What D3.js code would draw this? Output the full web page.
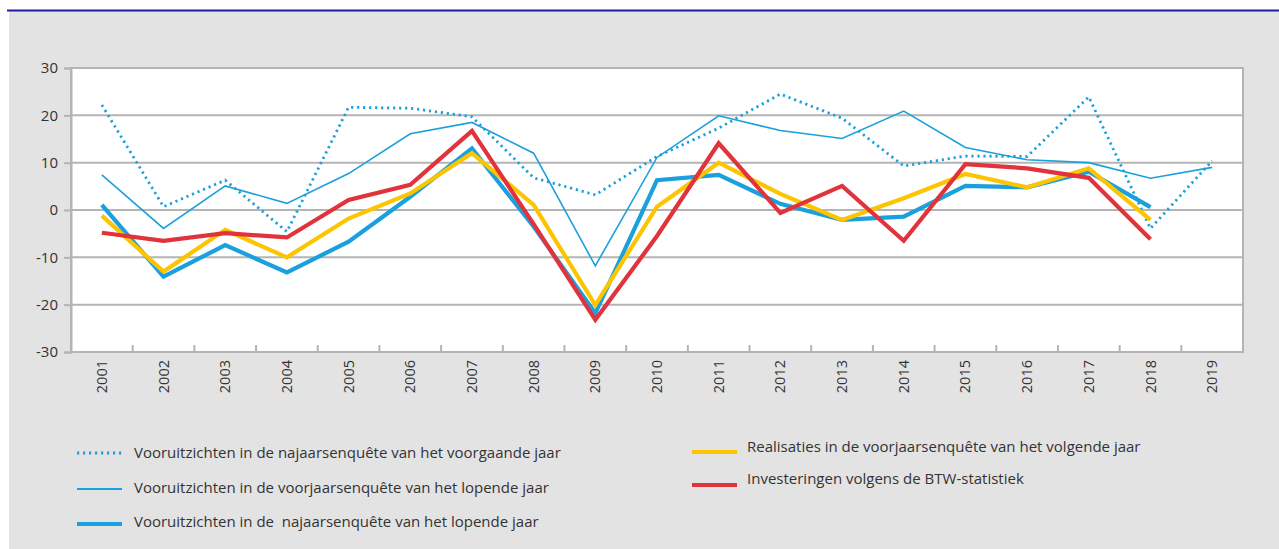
<!DOCTYPE html>
<html>
<head>
<meta charset="utf-8">
<script src="https://cdn.jsdelivr.net/npm/d3@7"></script>
<style>
  body { margin: 0; background: #fff; }
  text { font-family: "Open Sans", "Noto Sans", sans-serif; fill: #333; }
</style>
</head>
<body>
<svg id="chart" width="1279" height="549"></svg>
<script>
var years = ["2001","2002","2003","2004","2005","2006","2007","2008","2009","2010",
             "2011","2012","2013","2014","2015","2016","2017","2018","2019"];
var yTicks = [-30, -20, -10, 0, 10, 20, 30];

// najaarsenquete van het voorgaande jaar (dotted)
var najaarVorig = [22.2, 0.7, 6.3, -4.6, 21.7, 21.5, 19.7, 6.8, 3.2, 11.3,
                   17.3, 24.5, 19.4, 9.3, 11.4, 11.3, 23.9, -3.9, 10.4];
// voorjaarsenquete van het lopende jaar (thin)
var voorjaarLopend = [7.4, -3.9, 5.1, 1.4, 7.7, 16.1, 18.5, 12.0, -11.8, 11.1,
                      19.9, 16.8, 15.1, 20.9, 13.2, 10.6, 10.0, 6.7, 9.0];
// najaarsenquete van het lopende jaar (thick)
var najaarLopend = [1.1, -14.1, -7.4, -13.2, -6.7, 2.8, 13.0, -3.5, -21.8, 6.3,
                    7.4, 1.3, -2.1, -1.4, 5.1, 4.8, 8.1, 0.6];
// realisaties in de voorjaarsenquete van het volgende jaar
var realisaties = [-1.2, -13.0, -4.2, -10.0, -1.8, 3.5, 12.0, 1.1, -20.1, 0.7,
                   10.0, 3.4, -2.1, 2.5, 7.6, 4.8, 8.8, -2.1];
// investeringen volgens de BTW-statistiek
var btw = [-4.8, -6.5, -4.9, -5.8, 2.1, 5.3, 16.7, -3.0, -23.2, -5.5,
           14.1, -0.6, 5.1, -6.5, 9.7, 8.8, 6.8, -6.2];

var blue = "#1aa0dc", yellow = "#fdc400", red = "#e1333c", grid = "#b4b4b4";

var series = [
	{ name: "Vooruitzichten in de najaarsenquête van het voorgaande jaar", values: najaarVorig, color: blue, width: 2.8, dash: "2.2 3.8" },
	{ name: "Vooruitzichten in de voorjaarsenquête van het lopende jaar", values: voorjaarLopend, color: blue, width: 1.6 },
	{ name: "Vooruitzichten in de  najaarsenquête van het lopende jaar", values: najaarLopend, color: blue, width: 4.2 },
	{ name: "Realisaties in de voorjaarsenquête van het volgende jaar", values: realisaties, color: yellow, width: 4.2 },
	{ name: "Investeringen volgens de BTW-statistiek", values: btw, color: red, width: 4.2 }
];

var svg = d3.select("#chart");

svg.append("rect").attr("x", 9).attr("y", 11).attr("width", 1270).attr("height", 538).attr("fill", "#e3e3e3");
svg.append("line").attr("x1", 7).attr("x2", 1279).attr("y1", 10.5).attr("y2", 10.5)
	.attr("stroke", "#1c1c9e").attr("stroke-width", 2);

var plotL = 71, plotR = 1243, plotT = 68, plotB = 352;

var x = d3.scaleBand().domain(years).range([plotL, plotR]);
var y = d3.scaleLinear().domain([-30, 30]).range([plotB, plotT]);

svg.append("rect").attr("x", plotL).attr("y", plotT).attr("width", plotR - plotL).attr("height", plotB - plotT)
	.attr("fill", "#fff").attr("stroke", grid).attr("stroke-width", 2);

svg.append("g").selectAll("line").data(yTicks.slice(1, -1)).join("line")
	.attr("x1", plotL).attr("x2", plotR)
	.attr("y1", d => y(d)).attr("y2", d => y(d))
	.attr("stroke", grid).attr("stroke-width", 2);

// y axis, plain hyphen for negatives like the original
var yAxis = svg.append("g").attr("transform", "translate(" + plotL + ",0)")
	.call(d3.axisLeft(y).tickValues(yTicks).tickSize(7).tickPadding(6).tickFormat(d => String(d)));
yAxis.select(".domain").attr("stroke", grid).attr("stroke-width", 2);
yAxis.selectAll(".tick line").attr("stroke", grid).attr("stroke-width", 2);
yAxis.selectAll("text").attr("font-size", 15).attr("fill", "#333")
	.attr("font-family", "Open Sans, Noto Sans, sans-serif");

// x ticks at band boundaries, pointing up
svg.append("g").selectAll("line").data(years.slice(1)).join("line")
	.attr("x1", d => x(d)).attr("x2", d => x(d))
	.attr("y1", plotB).attr("y2", plotB - 7)
	.attr("stroke", grid).attr("stroke-width", 2);

svg.append("g").selectAll("text").data(years).join("text")
	.attr("transform", d => "translate(" + (x(d) + x.bandwidth() / 2) + "," + (plotB + 8) + ") rotate(-90)")
	.attr("text-anchor", "end").attr("dy", "0.35em")
	.attr("font-size", 14.5)
	.text(d => d);

var line = d3.line()
	.x((d, i) => x(years[i]) + x.bandwidth() / 2)
	.y(d => y(d));

series.forEach(function(s) {
	svg.append("path")
		.attr("d", line(s.values))
		.attr("fill", "none")
		.attr("stroke", s.color)
		.attr("stroke-width", s.width)
		.attr("stroke-dasharray", s.dash || null)
		.attr("stroke-linejoin", "miter");
});

// legend
var legendPos = [
	{ lx: 77, ly: 453, tx: 134, ty: 453 },
	{ lx: 77, ly: 489, tx: 134, ty: 488 },
	{ lx: 77, ly: 524, tx: 134, ty: 522 },
	{ lx: 692, ly: 452, tx: 747, ty: 447 },
	{ lx: 692, ly: 485, tx: 747, ty: 479 }
];

series.forEach(function(s, i) {
	var p = legendPos[i];
	svg.append("line")
		.attr("x1", p.lx).attr("x2", p.lx + 45).attr("y1", p.ly).attr("y2", p.ly)
		.attr("stroke", s.color)
		.attr("stroke-width", i == 1 ? 1.8 : s.width)
		.attr("stroke-dasharray", s.dash || null);
	svg.append("text")
		.attr("x", p.tx).attr("y", p.ty).attr("dy", "0.35em")
		.attr("font-size", 15)
		.style("white-space", "pre")
		.text(s.name);
});
</script>
</body>
</html>
